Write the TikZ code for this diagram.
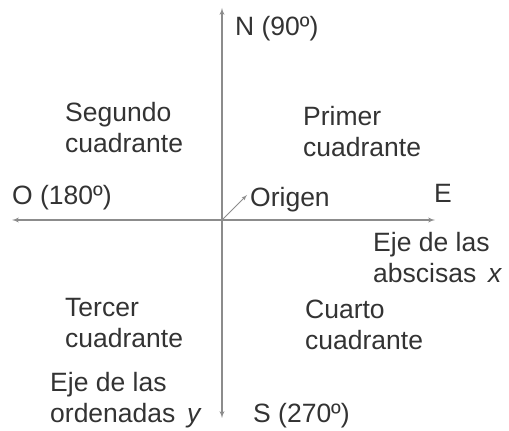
\documentclass[tikz,border=0pt]{standalone}
\usepackage{fontspec}
\setmainfont{Liberation Sans}
\usetikzlibrary{arrows,positioning}
\definecolor{ejegris}{HTML}{8C8C8C}
\definecolor{textogris}{HTML}{333333}
\tikzset{
    %Define standard arrow tip
    >=latex',
    %Define style for labels
    etiqueta/.style={
             anchor=base west,
             inner sep=0pt,
             align=left,
             text=textogris,
             font=\fontsize{26.5}{31}\selectfont},
    % Define arrow style
    ejearrow/.style={
            ->,
            draw=ejegris,
            line width=1.3pt},
    origenarrow/.style={
            ->,
            draw=ejegris,
            line width=0.9pt}
}

\begin{document}
\begin{tikzpicture}[x=1pt, y=1pt]
 \useasboundingbox (0,0) rectangle (509,431);
 % axis ends
 \coordinate (centro) at (222,211);
 \coordinate (arriba) at (222,423);
 \coordinate (abajo) at (222,13);
 \coordinate (izq) at (12,211);
 \coordinate (der) at (435,211);
 \coordinate (flecha) at (247,236);
 % quadrants
 \node[etiqueta] (segundo) at (65,278) {Segundo\\cuadrante};
 \node[etiqueta] (primer) at (303,274) {Primer\\cuadrante};
 \node[etiqueta] (tercer) at (65,83) {Tercer\\cuadrante};
 \node[etiqueta] (cuarto) at (305,81) {Cuarto\\cuadrante};
 % cardinal points
 \node[etiqueta] (norte) at (235,395) {N (90º)};
 \node[etiqueta] (oeste) at (12,226) {O (180º)};
 \node[etiqueta] (este) at (434,228) {E};
 \node[etiqueta] (sur) at (253,8) {S (270º)};
 \node[etiqueta] (origen) at (250,224) {Origen};
 % axis names
 \node[etiqueta] (ejex) at (373,148) {Eje de las\\abscisas\ \,\textit{x}};
 \node[etiqueta] (ejey) at (50,8) {Eje de las\\ordenadas\ \,\textit{y}};
 % axes
 \draw[ejearrow] (centro) -- (arriba);
 \draw[ejearrow] (centro) -- (abajo);
 \draw[ejearrow] (centro) -- (izq);
 \draw[ejearrow] (centro) -- (der);
 \draw[origenarrow] (centro) -- (flecha);
\end{tikzpicture}
\end{document}
